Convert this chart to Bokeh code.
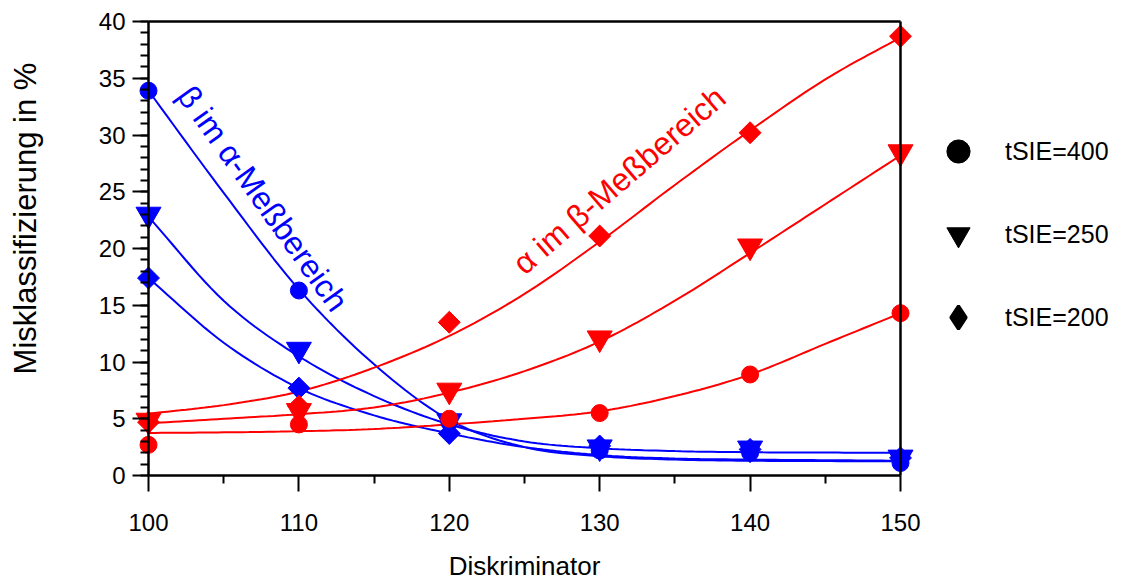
import numpy as np
from bokeh.plotting import figure
from bokeh.models import (Range1d, FixedTicker, Legend, LegendItem, Label,
                          LinearAxis)
from bokeh.embed import file_html
from bokeh.resources import INLINE

# ---- data ----
diskriminator = [100, 110, 120, 130, 140, 150]

# beta in alpha-Messbereich (blue)
beta_400 = [33.9, 16.3, 4.7, 2.2, 2.0, 1.1]
beta_250 = [23.0, 11.1, 4.8, 2.5, 2.4, 1.6]
beta_200 = [17.4, 7.7, 3.7, 2.6, 2.3, 1.55]

# alpha in beta-Messbereich (red)
alpha_400 = [2.7, 4.5, 5.0, 5.5, 8.9, 14.3]
alpha_250 = [4.85, 5.7, 7.5, 12.1, 20.2, 28.5]
alpha_200 = [4.7, 6.1, 13.5, 21.1, 30.2, 38.7]

# fitted curves at every 5 units
fit_x = [100, 105, 110, 115, 120, 125, 130, 135, 140, 145, 150]
beta_400_fit = [33.9, 24.9, 16.4, 9.8, 4.9, 2.5, 1.7, 1.4, 1.3, 1.27, 1.25]
beta_250_fit = [22.8, 15.4, 10.5, 7.0, 4.5, 3.0, 2.4, 2.15, 2.05, 2.02, 2.0]
beta_200_fit = [17.4, 11.7, 7.7, 5.3, 3.7, 2.5, 1.8, 1.5, 1.4, 1.35, 1.3]
alpha_400_fit = [3.75, 3.8, 3.9, 4.1, 4.5, 5.0, 5.65, 7.0, 8.9, 11.6, 14.3]
alpha_250_fit = [4.6, 5.0, 5.4, 6.0, 7.3, 9.2, 11.8, 15.4, 19.6, 23.9, 28.2]
alpha_200_fit = [5.45, 6.2, 7.4, 9.5, 12.3, 16.0, 20.6, 25.6, 30.4, 34.9, 38.6]

x_ticks = [100, 110, 120, 130, 140, 150]
y_ticks = [0, 5, 10, 15, 20, 25, 30, 35, 40]
legend_labels = ["tSIE=400", "tSIE=250", "tSIE=200"]

FONT = "Liberation Sans"
BLUE = "#0000ff"
RED = "#ff0000"

X0, X1 = x_ticks[0], x_ticks[-1]
Y0, Y1 = y_ticks[0], y_ticks[-1]

W, H = 1123, 581
AXIS_LEFT_PX = 148        # screen x of x = 100
AXIS_TOP_PX = 21          # screen y of y = 40
AXIS_BOTTOM_PX = 475      # screen y of y = 0
PX_PER_X = 15.04          # pixels per Diskriminator unit
PX_PER_Y = (AXIS_BOTTOM_PX - AXIS_TOP_PX) / (Y1 - Y0)


def smooth(xs, ys, n=12):
    """Catmull-Rom rendering of a curve through the read points."""
    xs = np.asarray(xs, float)
    ys = np.asarray(ys, float)
    px = np.concatenate([[2 * xs[0] - xs[1]], xs, [2 * xs[-1] - xs[-2]]])
    py = np.concatenate([[2 * ys[0] - ys[1]], ys, [2 * ys[-1] - ys[-2]]])
    t = np.linspace(0, 1, n, endpoint=False)
    ox, oy = [], []
    for i in range(1, len(px) - 2):
        for P, out in ((px, ox), (py, oy)):
            p0, p1, p2, p3 = P[i - 1], P[i], P[i + 1], P[i + 2]
            out.extend(0.5 * (2 * p1 + (-p0 + p2) * t
                              + (2 * p0 - 5 * p1 + 4 * p2 - p3) * t ** 2
                              + (-p0 + 3 * p1 - 3 * p2 + p3) * t ** 3))
    ox.append(xs[-1])
    oy.append(ys[-1])
    return ox, oy


# the frame spans the whole canvas; the axes are pinned at the data edges
x_start = X0 - AXIS_LEFT_PX / PX_PER_X
x_end = x_start + W / PX_PER_X
y_end = Y1 + AXIS_TOP_PX / PX_PER_Y
y_start = y_end - H / PX_PER_Y

p = figure(width=W, height=H,
           x_range=Range1d(x_start, x_end), y_range=Range1d(y_start, y_end),
           output_backend="svg", toolbar_location=None,
           x_axis_location=None, y_axis_location=None,
           min_border_left=0, min_border_right=0,
           min_border_top=0, min_border_bottom=0)

p.xgrid.visible = False
p.ygrid.visible = False
p.outline_line_color = None
p.background_fill_color = "white"
p.border_fill_color = "white"

# axes
xaxis = LinearAxis(ticker=FixedTicker(ticks=x_ticks,
                                      minor_ticks=[t + 5 for t in x_ticks[:-1]]),
                   bounds=(X0, X1), fixed_location=Y0)
yaxis = LinearAxis(ticker=FixedTicker(ticks=y_ticks,
                                      minor_ticks=list(range(Y0, Y1 + 1))),
                   bounds=(Y0, Y1), fixed_location=X0)
for ax in (xaxis, yaxis):
    ax.axis_line_width = 2.5
    ax.axis_line_color = "black"
    ax.major_tick_line_width = 2
    ax.minor_tick_line_width = 2
    ax.major_tick_out = 16
    ax.major_tick_in = 0
    ax.minor_tick_out = 8
    ax.minor_tick_in = 0
    ax.major_label_text_font = FONT
    ax.major_label_text_font_size = "24px"
    ax.major_label_text_color = "black"
    ax.axis_label_text_font = FONT
    ax.axis_label_text_font_style = "normal"
    ax.axis_label_text_color = "black"

xaxis.axis_label = "Diskriminator"
xaxis.axis_label_text_font_size = "26px"
xaxis.major_label_standoff = 22
xaxis.axis_label_standoff = 17
yaxis.major_label_standoff = 7
p.add_layout(xaxis, "below")
p.add_layout(yaxis, "left")

# y axis title (placed left of the tick labels, as in the reference)
p.add_layout(Label(x=X0 - (AXIS_LEFT_PX - 25) / PX_PER_X,
                   y=(AXIS_BOTTOM_PX - 218) / PX_PER_Y,
                   text="Misklassifizierung in %", angle=np.pi / 2,
                   text_align="center", text_baseline="middle",
                   text_font=FONT, text_font_size="31px", text_color="black"))


# top and right frame lines
def frame_line(loc, bounds):
    return LinearAxis(ticker=FixedTicker(ticks=[]), bounds=bounds,
                      fixed_location=loc,
                      axis_line_width=2.5, axis_line_color="black",
                      major_tick_out=0, major_tick_in=0,
                      minor_tick_out=0, minor_tick_in=0,
                      major_label_text_font_size="0px")


p.add_layout(frame_line(Y1, (X0, X1)), "above")
p.add_layout(frame_line(X1, (Y0, Y1)), "right")

# fitted curves
for fy, col in ((beta_400_fit, BLUE), (beta_250_fit, BLUE), (beta_200_fit, BLUE),
                (alpha_400_fit, RED), (alpha_250_fit, RED), (alpha_200_fit, RED)):
    sx, sy = smooth(fit_x, fy)
    p.line(sx, sy, line_color=col, line_width=2)


def markers(ys, col, kind):
    if kind == "circle":
        p.scatter(diskriminator, ys, marker="circle", size=17,
                  fill_color=col, line_color=col)
    elif kind == "triangle":
        p.scatter(diskriminator, ys, marker="inverted_triangle", size=25,
                  fill_color=col, line_color=col)
    else:
        p.scatter(diskriminator, ys, marker="square", size=15.5,
                  angle=np.pi / 4, fill_color=col, line_color=col)


markers(beta_400, BLUE, "circle")
markers(beta_250, BLUE, "triangle")
markers(beta_200, BLUE, "diamond")
markers(alpha_200, RED, "diamond")
markers(alpha_400, RED, "circle")
markers(alpha_250, RED, "triangle")

# legend (black symbols)
nan = [float("nan")]
leg_c = p.scatter(nan, nan, marker="circle", fill_color="black", line_color="black")
leg_t = p.scatter(nan, nan, marker="inverted_triangle", fill_color="black", line_color="black")
leg_d = p.scatter(nan, nan, marker="diamond", fill_color="black", line_color="black",
                  line_width=3)
legend = Legend(items=[LegendItem(label=legend_labels[0], renderers=[leg_c]),
                       LegendItem(label=legend_labels[1], renderers=[leg_t]),
                       LegendItem(label=legend_labels[2], renderers=[leg_d])],
                location=(958 - 29, H - 348 + 2), orientation="vertical",
                glyph_width=58, glyph_height=58, spacing=25, label_standoff=18,
                padding=0, margin=0, border_line_alpha=0, background_fill_alpha=0,
                label_text_font=FONT, label_text_font_size="25px",
                label_text_color="black")
p.add_layout(legend, "center")

# annotations
p.add_layout(Label(x=107.6, y=24.4, text="β im α-Meßbereich", angle=-0.95,
                   text_align="center", text_baseline="middle",
                   text_color=BLUE, text_font=FONT, text_font_size="32px"))
p.add_layout(Label(x=131.3, y=26.0, text="α im β-Meßbereich", angle=0.71,
                   text_align="center", text_baseline="middle",
                   text_color=RED, text_font=FONT, text_font_size="32px"))

open("out.html", "w").write(file_html(p, INLINE))
